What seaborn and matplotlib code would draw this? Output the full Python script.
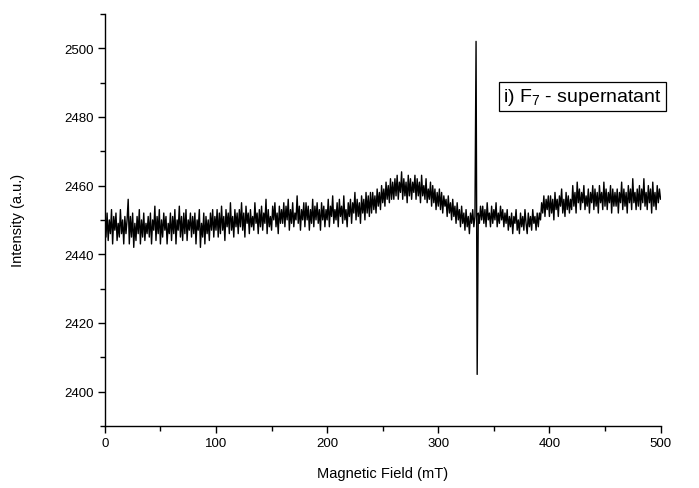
import numpy as np
import pandas as pd
import matplotlib
matplotlib.use("Agg")
import matplotlib.pyplot as plt
import seaborn as sns
from matplotlib.ticker import MultipleLocator

# Magnetic field (mT), sampled every 1 mT from 0 to 500
field_start, field_stop, field_step = 0, 500, 1
field = np.arange(field_start, field_stop + field_step, field_step)

# Intensity (a.u.), one row per 20 mT
intensity = [
    2453, 2445, 2452, 2444, 2450, 2446, 2453, 2443, 2451, 2447, 2452, 2444, 2449, 2445, 2453, 2446, 2450, 2443, 2451, 2446,
    2450, 2456, 2443, 2451, 2445, 2452, 2442, 2449, 2444, 2451, 2446, 2453, 2443, 2450, 2445, 2452, 2444, 2449, 2446, 2451,
    2445, 2452, 2443, 2450, 2447, 2454, 2444, 2451, 2446, 2453, 2443, 2450, 2445, 2452, 2447, 2451, 2443, 2449, 2446, 2452,
    2444, 2451, 2446, 2453, 2443, 2450, 2447, 2454, 2445, 2451, 2444, 2452, 2446, 2453, 2444, 2450, 2447, 2452, 2445, 2451,
    2446, 2452, 2443, 2450, 2447, 2453, 2442, 2449, 2445, 2452, 2443, 2451, 2446, 2450, 2444, 2452, 2447, 2453, 2445, 2451,
    2447, 2453, 2445, 2452, 2446, 2454, 2447, 2451, 2444, 2453, 2448, 2452, 2446, 2455, 2447, 2451, 2445, 2453, 2448, 2452,
    2446, 2453, 2448, 2455, 2447, 2452, 2445, 2454, 2449, 2452, 2446, 2453, 2448, 2451, 2447, 2455, 2449, 2452, 2446, 2453,
    2448, 2454, 2447, 2452, 2449, 2456, 2446, 2453, 2448, 2451, 2447, 2454, 2450, 2455, 2448, 2452, 2446, 2454, 2449, 2453,
    2449, 2455, 2448, 2454, 2450, 2456, 2447, 2453, 2449, 2455, 2448, 2452, 2450, 2457, 2449, 2454, 2447, 2453, 2450, 2455,
    2448, 2455, 2450, 2454, 2447, 2453, 2449, 2456, 2448, 2454, 2450, 2455, 2449, 2453, 2447, 2455, 2450, 2454, 2448, 2453,
    2450, 2456, 2448, 2454, 2451, 2457, 2449, 2453, 2450, 2455, 2448, 2456, 2451, 2454, 2449, 2457, 2450, 2453, 2448, 2455,
    2451, 2456, 2449, 2455, 2452, 2458, 2450, 2456, 2451, 2455, 2449, 2457, 2452, 2456, 2450, 2458, 2452, 2457, 2451, 2458,
    2452, 2458, 2453, 2457, 2452, 2459, 2454, 2458, 2453, 2460, 2455, 2459, 2454, 2461, 2456, 2460, 2455, 2462, 2456, 2461,
    2456, 2462, 2457, 2463, 2456, 2461, 2458, 2464, 2456, 2462, 2457, 2461, 2455, 2463, 2457, 2462, 2456, 2461, 2458, 2463,
    2456, 2462, 2457, 2461, 2455, 2463, 2457, 2460, 2456, 2462, 2455, 2459, 2456, 2461, 2454, 2460, 2455, 2459, 2453, 2458,
    2454, 2459, 2453, 2458, 2452, 2457, 2454, 2456, 2451, 2457, 2452, 2455, 2450, 2456, 2451, 2454, 2449, 2455, 2450, 2453,
    2448, 2454, 2449, 2452, 2447, 2453, 2448, 2451, 2446, 2452, 2449, 2453, 2448, 2451, 2502, 2405, 2452, 2449, 2454, 2450,
    2454, 2449, 2453, 2448, 2455, 2450, 2452, 2448, 2454, 2449, 2453, 2450, 2455, 2448, 2452, 2449, 2454, 2450, 2453, 2448,
    2452, 2449, 2453, 2447, 2451, 2448, 2452, 2446, 2451, 2449, 2453, 2447, 2450, 2446, 2452, 2448, 2451, 2447, 2453, 2449,
    2446, 2452, 2448, 2451, 2447, 2453, 2449, 2451, 2447, 2452, 2448, 2452, 2450, 2455, 2452, 2457, 2451, 2456, 2453, 2457,
    2451, 2457, 2452, 2456, 2450, 2458, 2453, 2456, 2451, 2457, 2454, 2459, 2452, 2456, 2451, 2458, 2453, 2457, 2452, 2456,
    2453, 2460, 2454, 2458, 2452, 2461, 2455, 2459, 2453, 2458, 2455, 2460, 2453, 2457, 2454, 2459, 2452, 2458, 2455, 2460,
    2453, 2459, 2454, 2458, 2452, 2460, 2455, 2458, 2453, 2461, 2454, 2459, 2453, 2458, 2455, 2460, 2452, 2459, 2454, 2458,
    2454, 2459, 2452, 2458, 2455, 2461, 2453, 2459, 2454, 2458, 2452, 2460, 2455, 2459, 2453, 2462, 2455, 2458, 2453, 2459,
    2454, 2460, 2453, 2459, 2455, 2462, 2454, 2458, 2453, 2460, 2455, 2459, 2452, 2461, 2454, 2458, 2453, 2460, 2455, 2459,
    2456,
]

x_ticks = [0, 100, 200, 300, 400, 500]
y_ticks = [2400, 2420, 2440, 2460, 2480, 2500]
label_text = "i) F$_7$ - supernatant"
x_label = "Magnetic Field (mT)"
y_label = "Intensity (a.u.)"

df = pd.DataFrame({"field": field, "intensity": intensity})

sns.set_theme(style="ticks")
plt.rcParams["font.family"] = ["Liberation Sans", "DejaVu Sans"]
plt.rcParams["mathtext.fontset"] = "custom"
plt.rcParams["mathtext.rm"] = "Liberation Sans"
plt.rcParams["mathtext.it"] = "Liberation Sans"
plt.rcParams["text.color"] = "black"
plt.rcParams["axes.labelcolor"] = "black"
plt.rcParams["xtick.color"] = "black"
plt.rcParams["ytick.color"] = "black"

fig = plt.figure(figsize=(6.99, 4.89), dpi=100)
ax = fig.add_axes([0.150, 0.127, 0.795, 0.8425])

sns.lineplot(data=df, x="field", y="intensity", ax=ax, color="black",
             linewidth=1.0, estimator=None, sort=False)

ax.set_xlim(0, 500)
ax.set_ylim(2390, 2510)
ax.set_xticks(x_ticks)
ax.set_yticks(y_ticks)
ax.xaxis.set_minor_locator(MultipleLocator(50))
ax.yaxis.set_minor_locator(MultipleLocator(10))
ax.tick_params(axis="both", which="major", direction="out", length=5,
               width=1, labelsize=9.5, colors="black", pad=3)
ax.tick_params(axis="both", which="minor", direction="out", length=3.5,
               width=1, colors="black")
for s in ["top", "right"]:
    ax.spines[s].set_visible(False)
for s in ["left", "bottom"]:
    ax.spines[s].set_color("black")
    ax.spines[s].set_linewidth(1)

ax.set_xlabel(x_label, fontsize=10.5, labelpad=12, color="black")
ax.set_ylabel(y_label, fontsize=10.5, labelpad=28, color="black")

ax.text(0.717, 0.80, label_text, transform=ax.transAxes, fontsize=14,
        ha="left", va="center", color="black",
        bbox=dict(boxstyle="square,pad=0.22", facecolor="white",
                  edgecolor="black", linewidth=0.9))

fig.savefig("out.png", dpi=100)
